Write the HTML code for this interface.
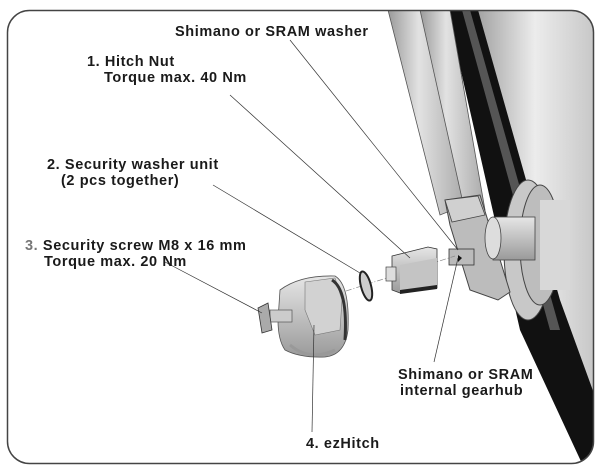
<!DOCTYPE html>
<html><head><meta charset="utf-8"><style>
html,body{margin:0;padding:0;background:#fff;}
svg{display:block;}
text{font-family:"Liberation Sans",sans-serif;font-weight:bold;font-size:14.5px;letter-spacing:0.6px;fill:#1a1a1a;}
</style></head><body>
<svg width="600" height="472" viewBox="0 0 600 472" xmlns="http://www.w3.org/2000/svg">
<defs>
<linearGradient id="tube" x1="0" x2="1" y1="0" y2="0">
<stop offset="0" stop-color="#9a9a9a"/><stop offset="0.4" stop-color="#e2e2e2"/><stop offset="1" stop-color="#aaa"/></linearGradient>
<linearGradient id="rim" x1="0" x2="1" y1="0" y2="0">
<stop offset="0" stop-color="#999"/><stop offset="0.5" stop-color="#ececec"/><stop offset="1" stop-color="#c4c4c4"/></linearGradient>
<linearGradient id="part" x1="0" x2="0" y1="0" y2="1">
<stop offset="0" stop-color="#e6e6e6"/><stop offset="1" stop-color="#9a9a9a"/></linearGradient>
<clipPath id="frame"><rect x="7.5" y="10.5" width="586" height="453" rx="22"/></clipPath>
</defs>
<g clip-path="url(#frame)">
<polygon points="470,10 600,10 600,470 590,470" fill="url(#rim)"/>
<polygon points="447,10 478,10 560,300 600,410 600,470 585,470 520,330" fill="#111"/>
<polygon points="462,10 470,10 560,330 550,330" fill="#555"/>
<polygon points="388,10 430,10 465,205 440,215" fill="url(#tube)" stroke="#555" stroke-width="0.8"/>
<polygon points="420,10 450,10 485,210 465,212" fill="url(#tube)" stroke="#555" stroke-width="0.8"/>
<ellipse cx="528" cy="250" rx="24" ry="70" fill="#c8c8c8" stroke="#444" stroke-width="1"/>
<ellipse cx="540" cy="245" rx="20" ry="60" fill="#bdbdbd" stroke="#444" stroke-width="1"/>
<rect x="540" y="200" width="30" height="90" fill="#d8d8d8"/>
<polygon points="445,200 480,195 510,292 498,300 470,290 450,225" fill="#bcbcbc" stroke="#444" stroke-width="1"/>
<polygon points="445,200 478,196 485,215 452,222" fill="#d0d0d0" stroke="#444" stroke-width="0.8"/>
<rect x="493" y="217" width="42" height="43" fill="url(#part)" stroke="#444" stroke-width="0.8"/>
<ellipse cx="493" cy="238" rx="8" ry="21" fill="#ddd" stroke="#444" stroke-width="0.8"/>
<rect x="449" y="249" width="25" height="16" fill="#bbb" stroke="#333" stroke-width="0.8"/>
<polygon points="458,255 462,258 458,262" fill="#111"/>
</g>
<line x1="262" y1="318" x2="455" y2="256" stroke="#888" stroke-width="0.7" stroke-dasharray="6,2,1,2"/>
<polygon points="392,256 428,247 437,249 437,288 400,293 392,290" fill="url(#part)" stroke="#333" stroke-width="0.8"/>
<polygon points="400,265 437,258 437,288 400,293" fill="#c4c4c4"/>
<rect x="386" y="267" width="10" height="14" fill="#ddd" stroke="#444" stroke-width="0.7"/>
<polygon points="400,290 437,285 437,289 400,294" fill="#222"/>
<ellipse cx="366" cy="286" rx="5" ry="15" fill="#ccc" stroke="#222" stroke-width="2" transform="rotate(-15 366 286)"/>
<path d="M280,290 Q300,275 335,276 Q350,285 348,330 Q345,355 325,357 Q300,358 285,350 Q278,340 278,320 Z" fill="url(#part)" stroke="#555" stroke-width="0.8"/>
<polygon points="305,282 335,278 342,300 340,330 315,335 305,310" fill="#d2d2d2" stroke="#777" stroke-width="0.6"/>
<path d="M332,280 Q348,290 345,340" fill="none" stroke="#333" stroke-width="3"/>
<path d="M290,345 Q310,362 335,350" fill="none" stroke="#999" stroke-width="3"/>
<rect x="270" y="310" width="22" height="12" fill="#ccc" stroke="#555" stroke-width="0.7"/>
<polygon points="258,308 268,303 272,330 262,333" fill="#aaa" stroke="#333" stroke-width="0.8"/>
<g stroke="#333" stroke-width="0.7" fill="none">
<line x1="290" y1="40" x2="458" y2="250"/>
<line x1="230" y1="95" x2="410" y2="258"/>
<line x1="213" y1="185" x2="360" y2="273"/>
<line x1="165" y1="262" x2="262" y2="313"/>
<line x1="312" y1="432" x2="314" y2="325"/>
<line x1="434" y1="362" x2="458" y2="258"/>
</g>
<rect x="7.5" y="10.5" width="586" height="453" rx="22" fill="none" stroke="#444" stroke-width="1.5"/>
<text x="175" y="36">Shimano or SRAM washer</text>
<text x="87" y="66">1. Hitch Nut</text>
<text x="104" y="82">Torque max. 40 Nm</text>
<text x="47" y="169">2. Security washer unit</text>
<text x="61" y="185">(2 pcs together)</text>
<text x="25" y="250"><tspan fill="#777">3.</tspan> Security screw M8 x 16 mm</text>
<text x="44" y="266">Torque max. 20 Nm</text>
<text x="306" y="448">4. ezHitch</text>
<text x="398" y="379">Shimano or SRAM</text>
<text x="400" y="395">internal gearhub</text>
</svg>
</body></html>
